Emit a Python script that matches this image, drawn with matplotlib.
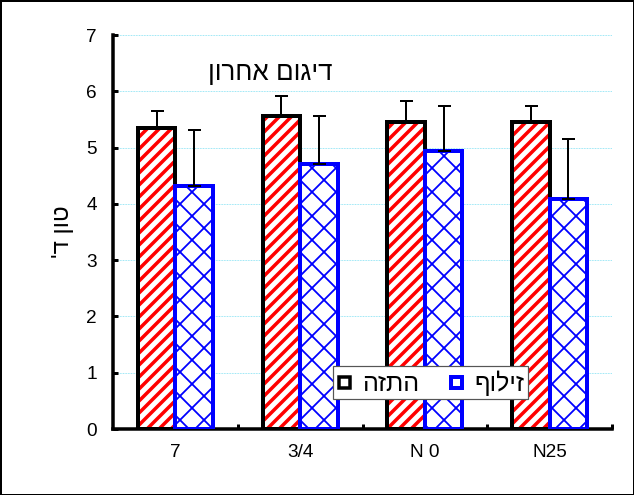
import numpy as np
import matplotlib
matplotlib.use("Agg")
import matplotlib.pyplot as plt
from matplotlib.lines import Line2D

plt.rcParams["font.family"] = ["Liberation Sans", "DejaVu Sans"]

# data
groups = ["7", "3/4", "N 0", "N25"]
spray_vals = [5.35, 5.56, 5.46, 5.45]
spray_err = [0.30, 0.35, 0.37, 0.29]
sprinkle_vals = [4.32, 4.71, 4.94, 4.09]
sprinkle_err = [1.00, 0.85, 0.80, 1.06]
yticks = [0, 1, 2, 3, 4, 5, 6, 7]

# hebrew strings in logical order; matplotlib has no bidi so flip them
title_txt = "דיגום אחרון"
ylabel_txt = "טון ד'"
spray_lbl = "התזה"
sprinkle_lbl = "זילוף"


def vis(s):
    return s[::-1]


dpi = 72
fig = plt.figure(figsize=(634 / dpi, 495 / dpi), dpi=dpi)
fig.patch.set_edgecolor("black")
fig.patch.set_linewidth(3)
ax = fig.add_axes([113 / 634, 66 / 495, 499 / 634, 394 / 495])

x = np.arange(len(groups))
w = 0.3

# red striped bars: hatch layer then a thick black outline
with plt.rc_context({"hatch.linewidth": 3.5}):
    ax.bar(x - w / 2, spray_vals, w, color="white", edgecolor="red",
           hatch="//", linewidth=0, zorder=2)
ax.bar(x - w / 2, spray_vals, w, fill=False, edgecolor="black",
       linewidth=4, zorder=3)

# blue cross-hatched bars
with plt.rc_context({"hatch.linewidth": 1.8}):
    ax.bar(x + w / 2, sprinkle_vals, w, color="white", edgecolor="blue",
           hatch="x", linewidth=0, zorder=2)
ax.bar(x + w / 2, sprinkle_vals, w, fill=False, edgecolor="blue",
       linewidth=4, zorder=3)

# upper error bars only
ax.errorbar(x - w / 2, spray_vals, yerr=[np.zeros(4), spray_err], fmt="none",
            ecolor="black", elinewidth=2, capsize=6.5, capthick=2, zorder=4)
ax.errorbar(x + w / 2, sprinkle_vals, yerr=[np.zeros(4), sprinkle_err],
            fmt="none", ecolor="black", elinewidth=2, capsize=6.5,
            capthick=2, zorder=4)

ax.set_xlim(-0.5, len(groups) - 0.5)
ax.set_ylim(0, 7)
ax.set_yticks(yticks)
ax.set_xticks(x)
ax.set_xticklabels(groups)
ax.set_xticks(np.arange(len(groups)) + 0.5, minor=True)
ax.tick_params(axis="x", which="major", length=0, labelsize=19, pad=15)
ax.tick_params(axis="x", which="minor", direction="in", length=5, width=3)
ax.tick_params(axis="y", direction="in", length=5, width=3, labelsize=19,
               pad=16)

for side in ["top", "right"]:
    ax.spines[side].set_visible(False)
ax.spines["left"].set_linewidth(3.5)
ax.spines["bottom"].set_linewidth(3.5)

for yv in yticks[1:]:
    ax.axhline(yv, color="#6fdcf2", linewidth=0.8, linestyle=(0, (1, 1)),
               zorder=1)

ax.text(0.316, 0.904, vis(title_txt), transform=ax.transAxes, fontsize=26,
        ha="center", va="center")
ax.set_ylabel(vis(ylabel_txt), fontsize=24, labelpad=12)

handles = [
    Line2D([], [], linestyle="none", marker="s", markersize=11,
           markerfacecolor="white", markeredgecolor="black",
           markeredgewidth=3.5),
    Line2D([], [], linestyle="none", marker="s", markersize=11,
           markerfacecolor="white", markeredgecolor="blue",
           markeredgewidth=4),
]
leg = ax.legend(handles, [vis(spray_lbl), vis(sprinkle_lbl)], ncol=2,
                loc="center", bbox_to_anchor=(0.636, 0.117), fontsize=25,
                frameon=True, fancybox=False, framealpha=1,
                edgecolor="#555555", handlelength=0.6, handletextpad=0.4,
                columnspacing=1.2, borderpad=0.15)
leg.get_frame().set_linewidth(1.2)
leg.set_zorder(5)

fig.savefig("out.png", dpi=dpi, edgecolor=fig.get_edgecolor())
